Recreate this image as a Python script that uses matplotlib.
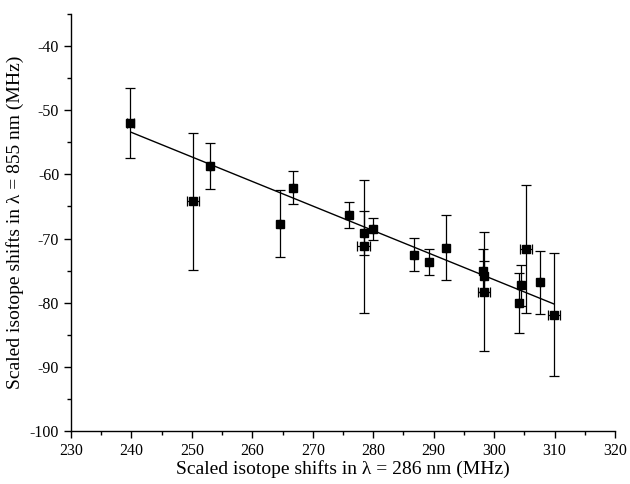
import numpy as np
import matplotlib
matplotlib.use("Agg")
import matplotlib.pyplot as plt
from matplotlib.ticker import MultipleLocator

plt.rcParams['font.family'] = ['Liberation Serif', 'DejaVu Serif']
plt.rcParams['axes.unicode_minus'] = False

# isotope shifts
x286 = [239.8, 250.2, 253.05, 264.6, 266.8, 276.0, 278.5, 278.4, 280.0, 286.8,
        289.3, 292.1, 298.2, 298.3, 298.3, 304.1, 304.5, 305.3, 307.6, 309.9]
y855 = [-52.05, -64.2, -58.7, -67.7, -62.05, -66.3, -69.1, -71.2, -68.5, -72.5,
        -73.7, -71.4, -75.0, -75.9, -78.3, -80.05, -77.3, -71.65, -76.8, -81.9]
y_err = [5.45, 10.7, 3.55, 5.25, 2.6, 2.0, 3.45, 10.35, 1.7, 2.55,
         2.0, 5.05, 3.3, 2.45, 9.3, 4.75, 3.2, 10.0, 4.9, 9.6]
x_err = [0.6, 1.05, 0, 0, 0, 0, 0, 1.05, 0, 0,
         0, 0, 0, 0, 1.0, 0, 0, 1.0, 0, 1.0]

# straight line fit (end points)
fit_x = [240.0, 309.9]
fit_y = [-53.45, -80.2]

fig = plt.figure(figsize=(6.3, 4.84), dpi=100)
ax = fig.add_axes([0.1127, 0.1095, 0.8635, 0.8615])

ax.plot(fit_x, fit_y, color='black', lw=1.0)
ax.errorbar(x286, y855, yerr=y_err, xerr=x_err, fmt='s', color='black',
            ms=5.5, ecolor='black', elinewidth=0.9, capsize=3.5, capthick=0.9)

ax.set_xlim(230, 320)
ax.set_ylim(-100, -35)
ax.xaxis.set_major_locator(MultipleLocator(10))
ax.xaxis.set_minor_locator(MultipleLocator(5))
ax.yaxis.set_major_locator(MultipleLocator(10))
ax.yaxis.set_minor_locator(MultipleLocator(5))
ax.set_yticks(np.arange(-100, -39, 10))

for s in ['top', 'right']:
    ax.spines[s].set_visible(False)
for s in ['left', 'bottom']:
    ax.spines[s].set_linewidth(1.0)
ax.tick_params(which='major', direction='out', length=5, width=1.0, labelsize=11.5)
ax.tick_params(which='minor', direction='out', length=3, width=1.0)

ax.set_xlabel('Scaled isotope shifts in λ = 286 nm (MHz)', fontsize=14, labelpad=1)
ax.set_ylabel('Scaled isotope shifts in λ = 855 nm (MHz)', fontsize=14, labelpad=4)

fig.savefig('out.png', dpi=100)
